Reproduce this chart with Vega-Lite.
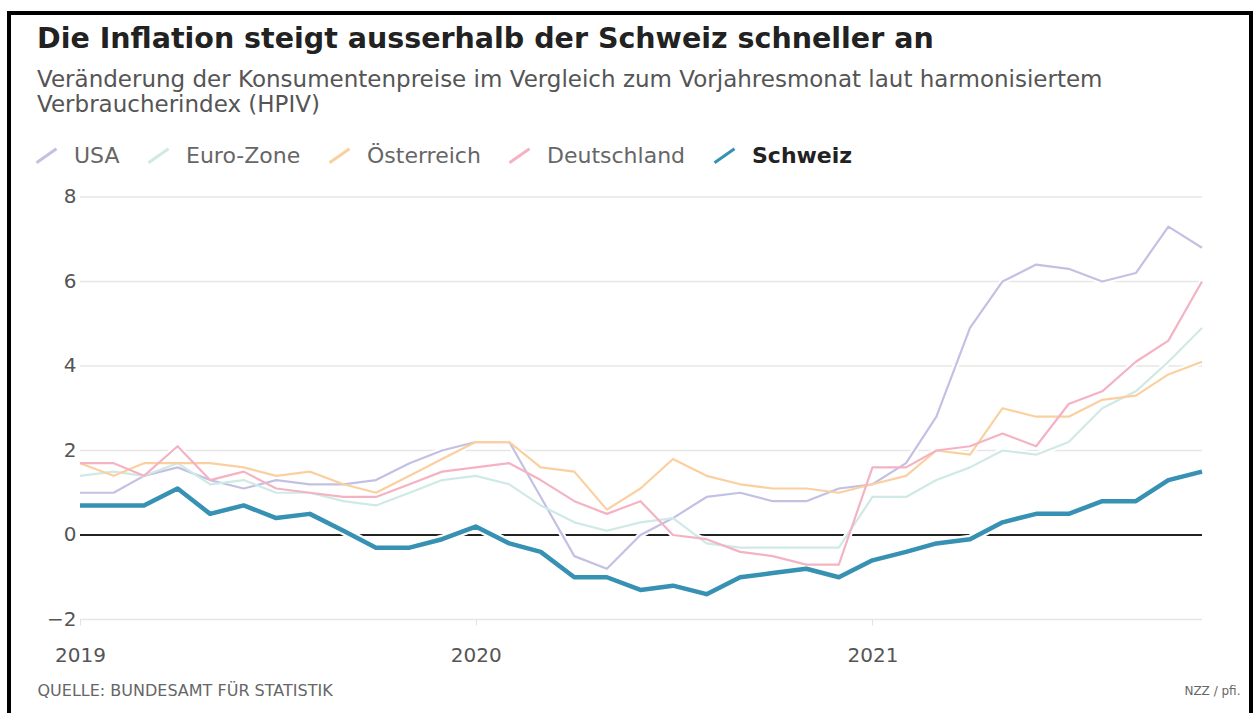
{
  "$schema": "https://vega.github.io/schema/vega-lite/v6.json",
  "width": 1253,
  "height": 713,
  "autosize": {"type": "fit", "contains": "padding"},
  "padding": {"left": 9, "top": 13, "right": 2, "bottom": -4},
  "background": "white",
  "config": {"view": {"stroke": "#000", "strokeWidth": 4}, "font": "DejaVu Sans"},
  "title": {
    "text": "Die Inflation steigt ausserhalb der Schweiz schneller an",
    "subtitle": ["Veränderung der Konsumentenpreise im Vergleich zum Vorjahresmonat laut harmonisiertem", "Verbraucherindex (HPIV)"],
    "anchor": "start",
    "frame": "group",
    "orient": "top",
    "offset": -104,
    "dx": 28,
    "font": "DejaVu Sans",
    "fontSize": 28.5,
    "fontWeight": "bold",
    "color": "#222",
    "subtitleFont": "DejaVu Sans",
    "subtitleFontSize": 23,
    "subtitleColor": "#555",
    "subtitleLineHeight": 25,
    "subtitlePadding": 16
  },
  "datasets": {
    "grid": [{"v": -2}, {"v": 2}, {"v": 4}, {"v": 6}, {"v": 8}],
    "zero": [{"v": 0}],
    "infl": [
      {"land":"USA","date":"2019-01-01","v":1.0},{"land":"USA","date":"2019-02-01","v":1.0},{"land":"USA","date":"2019-03-01","v":1.4},{"land":"USA","date":"2019-04-01","v":1.6},{"land":"USA","date":"2019-05-01","v":1.3},{"land":"USA","date":"2019-06-01","v":1.1},{"land":"USA","date":"2019-07-01","v":1.3},{"land":"USA","date":"2019-08-01","v":1.2},{"land":"USA","date":"2019-09-01","v":1.2},{"land":"USA","date":"2019-10-01","v":1.3},{"land":"USA","date":"2019-11-01","v":1.7},{"land":"USA","date":"2019-12-01","v":2.0},
      {"land":"USA","date":"2020-01-01","v":2.2},{"land":"USA","date":"2020-02-01","v":2.2},{"land":"USA","date":"2020-03-01","v":0.9},{"land":"USA","date":"2020-04-01","v":-0.5},{"land":"USA","date":"2020-05-01","v":-0.8},{"land":"USA","date":"2020-06-01","v":0.0},{"land":"USA","date":"2020-07-01","v":0.4},{"land":"USA","date":"2020-08-01","v":0.9},{"land":"USA","date":"2020-09-01","v":1.0},{"land":"USA","date":"2020-10-01","v":0.8},{"land":"USA","date":"2020-11-01","v":0.8},{"land":"USA","date":"2020-12-01","v":1.1},
      {"land":"USA","date":"2021-01-01","v":1.2},{"land":"USA","date":"2021-02-01","v":1.7},{"land":"USA","date":"2021-03-01","v":2.8},{"land":"USA","date":"2021-04-01","v":4.9},{"land":"USA","date":"2021-05-01","v":6.0},{"land":"USA","date":"2021-06-01","v":6.4},{"land":"USA","date":"2021-07-01","v":6.3},{"land":"USA","date":"2021-08-01","v":6.0},{"land":"USA","date":"2021-09-01","v":6.2},{"land":"USA","date":"2021-10-01","v":7.3},{"land":"USA","date":"2021-11-01","v":6.8},
      {"land":"Euro-Zone","date":"2019-01-01","v":1.4},{"land":"Euro-Zone","date":"2019-02-01","v":1.5},{"land":"Euro-Zone","date":"2019-03-01","v":1.4},{"land":"Euro-Zone","date":"2019-04-01","v":1.7},{"land":"Euro-Zone","date":"2019-05-01","v":1.2},{"land":"Euro-Zone","date":"2019-06-01","v":1.3},{"land":"Euro-Zone","date":"2019-07-01","v":1.0},{"land":"Euro-Zone","date":"2019-08-01","v":1.0},{"land":"Euro-Zone","date":"2019-09-01","v":0.8},{"land":"Euro-Zone","date":"2019-10-01","v":0.7},{"land":"Euro-Zone","date":"2019-11-01","v":1.0},{"land":"Euro-Zone","date":"2019-12-01","v":1.3},
      {"land":"Euro-Zone","date":"2020-01-01","v":1.4},{"land":"Euro-Zone","date":"2020-02-01","v":1.2},{"land":"Euro-Zone","date":"2020-03-01","v":0.7},{"land":"Euro-Zone","date":"2020-04-01","v":0.3},{"land":"Euro-Zone","date":"2020-05-01","v":0.1},{"land":"Euro-Zone","date":"2020-06-01","v":0.3},{"land":"Euro-Zone","date":"2020-07-01","v":0.4},{"land":"Euro-Zone","date":"2020-08-01","v":-0.2},{"land":"Euro-Zone","date":"2020-09-01","v":-0.3},{"land":"Euro-Zone","date":"2020-10-01","v":-0.3},{"land":"Euro-Zone","date":"2020-11-01","v":-0.3},{"land":"Euro-Zone","date":"2020-12-01","v":-0.3},
      {"land":"Euro-Zone","date":"2021-01-01","v":0.9},{"land":"Euro-Zone","date":"2021-02-01","v":0.9},{"land":"Euro-Zone","date":"2021-03-01","v":1.3},{"land":"Euro-Zone","date":"2021-04-01","v":1.6},{"land":"Euro-Zone","date":"2021-05-01","v":2.0},{"land":"Euro-Zone","date":"2021-06-01","v":1.9},{"land":"Euro-Zone","date":"2021-07-01","v":2.2},{"land":"Euro-Zone","date":"2021-08-01","v":3.0},{"land":"Euro-Zone","date":"2021-09-01","v":3.4},{"land":"Euro-Zone","date":"2021-10-01","v":4.1},{"land":"Euro-Zone","date":"2021-11-01","v":4.9},
      {"land":"Österreich","date":"2019-01-01","v":1.7},{"land":"Österreich","date":"2019-02-01","v":1.4},{"land":"Österreich","date":"2019-03-01","v":1.7},{"land":"Österreich","date":"2019-04-01","v":1.7},{"land":"Österreich","date":"2019-05-01","v":1.7},{"land":"Österreich","date":"2019-06-01","v":1.6},{"land":"Österreich","date":"2019-07-01","v":1.4},{"land":"Österreich","date":"2019-08-01","v":1.5},{"land":"Österreich","date":"2019-09-01","v":1.2},{"land":"Österreich","date":"2019-10-01","v":1.0},{"land":"Österreich","date":"2019-11-01","v":1.4},{"land":"Österreich","date":"2019-12-01","v":1.8},
      {"land":"Österreich","date":"2020-01-01","v":2.2},{"land":"Österreich","date":"2020-02-01","v":2.2},{"land":"Österreich","date":"2020-03-01","v":1.6},{"land":"Österreich","date":"2020-04-01","v":1.5},{"land":"Österreich","date":"2020-05-01","v":0.6},{"land":"Österreich","date":"2020-06-01","v":1.1},{"land":"Österreich","date":"2020-07-01","v":1.8},{"land":"Österreich","date":"2020-08-01","v":1.4},{"land":"Österreich","date":"2020-09-01","v":1.2},{"land":"Österreich","date":"2020-10-01","v":1.1},{"land":"Österreich","date":"2020-11-01","v":1.1},{"land":"Österreich","date":"2020-12-01","v":1.0},
      {"land":"Österreich","date":"2021-01-01","v":1.2},{"land":"Österreich","date":"2021-02-01","v":1.4},{"land":"Österreich","date":"2021-03-01","v":2.0},{"land":"Österreich","date":"2021-04-01","v":1.9},{"land":"Österreich","date":"2021-05-01","v":3.0},{"land":"Österreich","date":"2021-06-01","v":2.8},{"land":"Österreich","date":"2021-07-01","v":2.8},{"land":"Österreich","date":"2021-08-01","v":3.2},{"land":"Österreich","date":"2021-09-01","v":3.3},{"land":"Österreich","date":"2021-10-01","v":3.8},{"land":"Österreich","date":"2021-11-01","v":4.1},
      {"land":"Deutschland","date":"2019-01-01","v":1.7},{"land":"Deutschland","date":"2019-02-01","v":1.7},{"land":"Deutschland","date":"2019-03-01","v":1.4},{"land":"Deutschland","date":"2019-04-01","v":2.1},{"land":"Deutschland","date":"2019-05-01","v":1.3},{"land":"Deutschland","date":"2019-06-01","v":1.5},{"land":"Deutschland","date":"2019-07-01","v":1.1},{"land":"Deutschland","date":"2019-08-01","v":1.0},{"land":"Deutschland","date":"2019-09-01","v":0.9},{"land":"Deutschland","date":"2019-10-01","v":0.9},{"land":"Deutschland","date":"2019-11-01","v":1.2},{"land":"Deutschland","date":"2019-12-01","v":1.5},
      {"land":"Deutschland","date":"2020-01-01","v":1.6},{"land":"Deutschland","date":"2020-02-01","v":1.7},{"land":"Deutschland","date":"2020-03-01","v":1.3},{"land":"Deutschland","date":"2020-04-01","v":0.8},{"land":"Deutschland","date":"2020-05-01","v":0.5},{"land":"Deutschland","date":"2020-06-01","v":0.8},{"land":"Deutschland","date":"2020-07-01","v":0.0},{"land":"Deutschland","date":"2020-08-01","v":-0.1},{"land":"Deutschland","date":"2020-09-01","v":-0.4},{"land":"Deutschland","date":"2020-10-01","v":-0.5},{"land":"Deutschland","date":"2020-11-01","v":-0.7},{"land":"Deutschland","date":"2020-12-01","v":-0.7},
      {"land":"Deutschland","date":"2021-01-01","v":1.6},{"land":"Deutschland","date":"2021-02-01","v":1.6},{"land":"Deutschland","date":"2021-03-01","v":2.0},{"land":"Deutschland","date":"2021-04-01","v":2.1},{"land":"Deutschland","date":"2021-05-01","v":2.4},{"land":"Deutschland","date":"2021-06-01","v":2.1},{"land":"Deutschland","date":"2021-07-01","v":3.1},{"land":"Deutschland","date":"2021-08-01","v":3.4},{"land":"Deutschland","date":"2021-09-01","v":4.1},{"land":"Deutschland","date":"2021-10-01","v":4.6},{"land":"Deutschland","date":"2021-11-01","v":6.0},
      {"land":"Schweiz","date":"2019-01-01","v":0.7},{"land":"Schweiz","date":"2019-02-01","v":0.7},{"land":"Schweiz","date":"2019-03-01","v":0.7},{"land":"Schweiz","date":"2019-04-01","v":1.1},{"land":"Schweiz","date":"2019-05-01","v":0.5},{"land":"Schweiz","date":"2019-06-01","v":0.7},{"land":"Schweiz","date":"2019-07-01","v":0.4},{"land":"Schweiz","date":"2019-08-01","v":0.5},{"land":"Schweiz","date":"2019-09-01","v":0.1},{"land":"Schweiz","date":"2019-10-01","v":-0.3},{"land":"Schweiz","date":"2019-11-01","v":-0.3},{"land":"Schweiz","date":"2019-12-01","v":-0.1},
      {"land":"Schweiz","date":"2020-01-01","v":0.2},{"land":"Schweiz","date":"2020-02-01","v":-0.2},{"land":"Schweiz","date":"2020-03-01","v":-0.4},{"land":"Schweiz","date":"2020-04-01","v":-1.0},{"land":"Schweiz","date":"2020-05-01","v":-1.0},{"land":"Schweiz","date":"2020-06-01","v":-1.3},{"land":"Schweiz","date":"2020-07-01","v":-1.2},{"land":"Schweiz","date":"2020-08-01","v":-1.4},{"land":"Schweiz","date":"2020-09-01","v":-1.0},{"land":"Schweiz","date":"2020-10-01","v":-0.9},{"land":"Schweiz","date":"2020-11-01","v":-0.8},{"land":"Schweiz","date":"2020-12-01","v":-1.0},
      {"land":"Schweiz","date":"2021-01-01","v":-0.6},{"land":"Schweiz","date":"2021-02-01","v":-0.4},{"land":"Schweiz","date":"2021-03-01","v":-0.2},{"land":"Schweiz","date":"2021-04-01","v":-0.1},{"land":"Schweiz","date":"2021-05-01","v":0.3},{"land":"Schweiz","date":"2021-06-01","v":0.5},{"land":"Schweiz","date":"2021-07-01","v":0.5},{"land":"Schweiz","date":"2021-08-01","v":0.8},{"land":"Schweiz","date":"2021-09-01","v":0.8},{"land":"Schweiz","date":"2021-10-01","v":1.3},{"land":"Schweiz","date":"2021-11-01","v":1.5}
    ]
  },
  "layer": [
    {
      "data": {"name": "grid"},
      "mark": {"type": "rule", "color": "#e6e6e6", "strokeWidth": 1.5},
      "encoding": {
        "x": {"datum": {"year": 2019, "month": 1, "date": 1, "utc": true}, "type": "temporal",
              "scale": {"type": "utc", "domain": [{"year": 2018, "month": 10, "date": 27, "hours": 12, "utc": true}, {"year": 2021, "month": 12, "date": 16, "hours": 5, "utc": true}]}},
        "x2": {"datum": {"year": 2021, "month": 11, "date": 1, "utc": true}},
        "y": {"field": "v", "type": "quantitative", "scale": {"domain": [-4.308, 12.355], "nice": false, "zero": false}}
      }
    },
    {
      "data": {"name": "zero"},
      "mark": {"type": "rule", "color": "#222", "strokeWidth": 2},
      "encoding": {
        "x": {"datum": {"year": 2019, "month": 1, "date": 1, "utc": true}, "type": "temporal"},
        "x2": {"datum": {"year": 2021, "month": 11, "date": 1, "utc": true}},
        "y": {"field": "v", "type": "quantitative"}
      }
    },
    {
      "data": {"name": "infl"},
      "mark": {"type": "line", "color": "white", "strokeJoin": "round", "strokeCap": "round"},
      "encoding": {
        "x": {"field": "date", "type": "temporal"},
        "y": {"field": "v", "type": "quantitative"},
        "detail": {"field": "land"},
        "strokeWidth": {"condition": {"test": "datum.land === 'Schweiz'", "value": 9}, "value": 6}
      }
    },
    {
      "data": {"name": "infl"},
      "mark": {"type": "line", "strokeJoin": "round", "strokeCap": "butt"},
      "encoding": {
        "x": {"field": "date", "type": "temporal",
              "axis": {"values": [{"year": 2019, "month": 1, "date": 1, "utc": true}, {"year": 2020, "month": 1, "date": 1, "utc": true}, {"year": 2021, "month": 1, "date": 1, "utc": true}],
                       "format": "%Y", "orient": "bottom", "offset": -98, "domain": false, "grid": false,
                       "ticks": true, "tickSize": 6, "tickColor": "#e2e2e2", "labelPadding": 20,
                       "labelFont": "DejaVu Sans", "labelFontSize": 20, "labelColor": "#555",
                       "title": "QUELLE: BUNDESAMT FÜR STATISTIK", "titleX": 28, "titleY": 71, "titleAnchor": "start", "titleAlign": "left", "titleBaseline": "middle",
                       "titleFont": "DejaVu Sans", "titleFontSize": 16, "titleFontWeight": "normal", "titleColor": "#666"}},
        "y": {"field": "v", "type": "quantitative",
              "axis": {"values": [-2, 0, 2, 4, 6, 8], "orient": "left", "offset": -69, "domain": false, "ticks": false, "grid": false,
                       "labelPadding": 2, "labelFont": "DejaVu Sans", "labelFontSize": 20, "labelColor": "#555",
                       "title": "NZZ / pfi.", "titleAngle": 0, "titleX": 1162, "titleY": 677, "titleAlign": "right", "titleBaseline": "middle",
                       "titleFont": "DejaVu Sans", "titleFontSize": 12, "titleFontWeight": "normal", "titleColor": "#666"}},
        "color": {"field": "land", "type": "nominal",
                  "scale": {"domain": ["USA", "Euro-Zone", "Österreich", "Deutschland", "Schweiz"],
                            "range": ["#c3c1e3", "#cfeae6", "#fbd0a0", "#f4b3c3", "#3691b3"]},
                  "legend": {"orient": "none", "legendX": 26, "legendY": 131, "direction": "horizontal", "title": null,
                             "symbolType": "M-1,0.7L1,-0.7", "symbolSize": 400, "symbolStrokeWidth": 3,
                             "labelFont": "DejaVu Sans", "labelFontSize": 22, "labelOffset": 16, "columnPadding": 22,
                             "labelColor": {"expr": "datum.value === 'Schweiz' ? '#222' : '#666'"},
                             "labelFontWeight": {"expr": "datum.value === 'Schweiz' ? 'bold' : 'normal'"}}},
        "strokeWidth": {"condition": {"test": "datum.land === 'Schweiz'", "value": 4.5}, "value": 2.2}
      }
    }
  ]
}
